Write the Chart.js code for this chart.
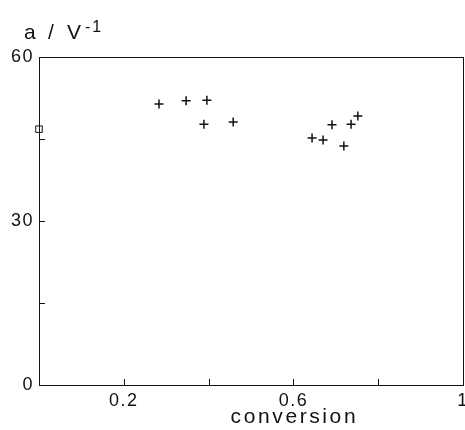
<!DOCTYPE html>
<html>
<head>
<meta charset="utf-8">
<script src="https://cdn.jsdelivr.net/npm/chart.js@4"></script>
<style>
  html, body { margin: 0; padding: 0; background: #fff; overflow: hidden; }
  #wrap { position: relative; width: 480px; height: 430px; }
</style>
</head>
<body>
<div id="wrap"><canvas id="chart"></canvas></div>
<script>
// conversion vs a (V^-1)
const conversion = [0.283, 0.347, 0.396, 0.389, 0.458, 0.644, 0.670, 0.691, 0.719, 0.736, 0.752];
const aValues = [51.4, 52.0, 52.1, 47.7, 48.1, 45.2, 44.8, 47.6, 43.7, 47.7, 49.2];
const squareX = [0];
const squareY = [46.8];

const xTicks = [0.2, 0.4, 0.6, 0.8, 1];
const xLabels = ["0.2", "", "0.6", "", "1"];
const yTicks = [0, 15, 30, 45, 60];
const yLabels = ["0", "", "30", "", "60"];

const FONT = "'Liberation Sans', Arial, sans-serif";

const framePlugin = {
  id: "frame",
  beforeDraw(chart) {
    chart.ctx.letterSpacing = "1.5px";
  },
  afterDraw(chart) {
    const ctx = chart.ctx;
    const area = chart.chartArea;
    const xs = chart.scales.x;
    const ys = chart.scales.y;
    ctx.save();
    ctx.strokeStyle = "#111";
    ctx.lineWidth = 1;
    ctx.strokeRect(area.left + 0.5, area.top + 0.5, area.right - area.left, area.bottom - area.top);

    // inward ticks
    ctx.beginPath();
    for (const v of [0.2, 0.4, 0.6, 0.8]) {
      const px = Math.round(xs.getPixelForValue(v)) + 0.5;
      ctx.moveTo(px, area.bottom);
      ctx.lineTo(px, area.bottom - 6);
    }
    for (const v of [15, 30, 45]) {
      const py = Math.round(ys.getPixelForValue(v)) + 0.5;
      ctx.moveTo(area.left, py);
      ctx.lineTo(area.left + 6, py);
    }
    ctx.stroke();

    // axis titles
    ctx.fillStyle = "#111";
    ctx.textBaseline = "alphabetic";
    ctx.textAlign = "left";
    ctx.letterSpacing = "0px";
    ctx.font = "21px " + FONT;
    ctx.fillText("a", 24, 39);
    ctx.fillText("/", 48, 39);
    ctx.fillText("V", 67, 39);
    ctx.font = "16px " + FONT;
    ctx.letterSpacing = "2px";
    ctx.fillText("-1", 85, 32);

    ctx.font = "21px " + FONT;
    ctx.letterSpacing = "2.6px";
    ctx.textAlign = "center";
    ctx.fillText("conversion", xs.getPixelForValue(0.6) + 1, 423);
    ctx.restore();
  },
};

new Chart(document.getElementById("chart"), {
  type: "scatter",
  data: {
    datasets: [
      {
        data: conversion.map((x, i) => ({ x, y: aValues[i] })),
        pointStyle: "cross",
        radius: 4.5,
        borderColor: "#111",
        borderWidth: 1.5,
      },
      {
        data: squareX.map((x, i) => ({ x, y: squareY[i] })),
        pointStyle: "rect",
        radius: 4.6,
        borderColor: "#111",
        backgroundColor: "rgba(0,0,0,0)",
        borderWidth: 1,
        clip: false,
      },
    ],
  },
  options: {
    responsive: true,
    maintainAspectRatio: false,
    animation: false,
    layout: { padding: { left: 0, top: 57, right: 17, bottom: 0 } },
    plugins: { legend: { display: false }, tooltip: { enabled: false } },
    scales: {
      x: {
        type: "linear",
        min: 0,
        max: 1,
        afterBuildTicks: (scale) => {
          scale.ticks = xTicks.map((value) => ({ value }));
        },
        afterFit: (scale) => {
          scale.height = 45;
        },
        grid: { display: false, drawTicks: false },
        border: { display: false },
        ticks: {
          padding: 5,
          color: "#111",
          font: { family: FONT, size: 18 },
          maxRotation: 0,
          autoSkip: false,
          callback: (value) => xLabels[xTicks.indexOf(value)] ?? "",
        },
      },
      y: {
        type: "linear",
        min: 0,
        max: 60,
        afterBuildTicks: (scale) => {
          scale.ticks = yTicks.map((value) => ({ value }));
        },
        afterFit: (scale) => {
          scale.width = 39;
        },
        grid: { display: false, drawTicks: false },
        border: { display: false },
        ticks: {
          padding: 5,
          color: "#111",
          font: { family: FONT, size: 18 },
          autoSkip: false,
          callback: (value) => yLabels[yTicks.indexOf(value)] ?? "",
        },
      },
    },
  },
  plugins: [framePlugin],
});
</script>
</body>
</html>
